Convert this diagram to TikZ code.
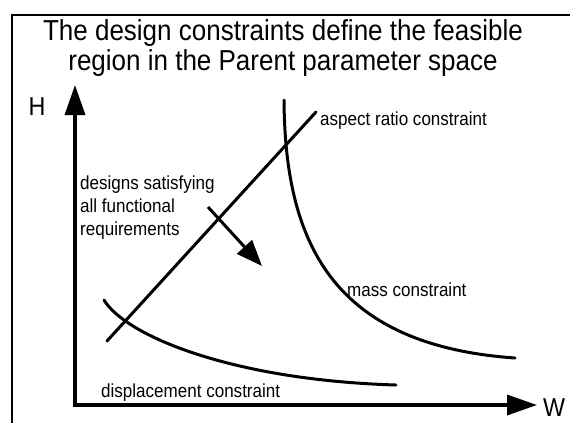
\documentclass[tikz,border=0pt]{standalone}
\usepackage{fontspec}
\setmainfont{Liberation Sans}[FakeStretch=0.9]
\usepackage{tikz}
\usetikzlibrary{positioning,calc}
\usetikzlibrary{arrows.meta}
\tikzset{
  axis/.style={draw=black,line width=3.5bp,-{Triangle[length=30bp,width=20bp]}},
  curve/.style={draw=black,line width=3bp,line cap=round},
  lbl/.style={font=\fontsize{19}{23}\selectfont,inner sep=0pt,anchor=west,align=left},
  headline/.style={font=\fontsize{29}{31}\selectfont,align=center,inner sep=0pt},
}

\begin{document}
\begin{tikzpicture}[x=1bp,y=-1bp]
  \useasboundingbox (0,0) rectangle (575,423);
  % frame
  \draw[line width=2.5bp] (570,15) -- (12,15) -- (12,423);
  \node[headline] (title) at (283,48)
    {The design constraints define the feasible\\region in the Parent parameter space};
  % axes
  \coordinate (o) at (75,405);
  \coordinate (htip) at (75,85);
  \coordinate (wtip) at (537,405);
  \draw[axis] (o) -- (htip);
  \draw[axis] ([xshift=-1.75bp]o) -- (wtip);
  \node[font=\fontsize{26}{28}\selectfont] (hlab) at (37,107) {H};
  \node[font=\fontsize{26}{28}\selectfont] (wlab) at (554,408) {W};
  % constraints
  \coordinate (ar0) at (107,341);
  \coordinate (ar1) at (316,112);
  \draw[curve] (ar0) -- (ar1);
  \node[lbl] (arlab) at (320,121) {aspect ratio constraint};
  \coordinate (m0) at (284,100);
  \coordinate (m1) at (515,358);
  \draw[curve] (m0) .. controls (285,240) and (330,345) .. (m1);
  \node[lbl] (mlab) at (347,290) {mass constraint};
  \coordinate (d0) at (104,300);
  \coordinate (d1) at (396,385);
  \draw[curve] (d0) .. controls (125,335) and (230,380) .. (d1);
  \node[lbl] (dlab) at (101,393) {displacement constraint};
  % feasible region
  \node[lbl] (feas) at (80,208) {designs satisfying\\all functional\\requirements};
  \coordinate (f0) at (208,207);
  \coordinate (f1) at (262,266);
  \draw[line width=3bp,-{Triangle[length=26bp,width=20bp]}] (f0) -- (f1);
\end{tikzpicture}
\end{document}
